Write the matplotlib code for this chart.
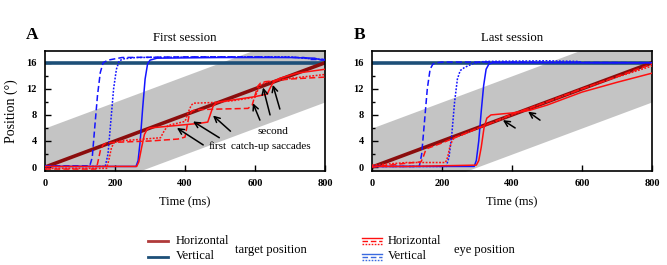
import matplotlib
matplotlib.use("Agg")
import matplotlib.pyplot as plt
from matplotlib.lines import Line2D
import numpy as np

plt.rcParams["font.family"] = ["Liberation Serif", "DejaVu Serif"]

# ---- data -------------------------------------------------------------
target_t = [0, 800]
target_h = [0, 16]
target_v = [16, 16]
band_halfwidth = 6.0

# panel A (first session) eye traces
A_vdash_t = [0, 128, 135, 142, 150, 158, 166, 180, 220, 400, 600, 740, 760, 800]
A_vdash_y = [0.2, 0.2, 1.5, 6, 11, 14.5, 16, 16.4, 16.8, 16.9, 16.9, 16.8, 16.5, 16.5]
A_vdot_t = [0, 172, 180, 188, 196, 204, 212, 225, 260, 500, 700, 760, 800]
A_vdot_y = [0.1, 0.1, 2, 7, 12, 15, 16.3, 16.6, 16.8, 16.9, 16.9, 16.6, 16.5]
A_vsol_t = [0, 260, 266, 272, 279, 286, 293, 300, 320, 500, 700, 770, 790, 800]
A_vsol_y = [0.1, 0.1, 1, 4, 9, 13.5, 15.8, 16.4, 16.7, 16.8, 16.8, 16.7, 16.4, 16.4]

A_hsol_t = [0, 262, 268, 276, 284, 292, 300, 320, 360, 400, 440, 465, 472, 480, 488,
            500, 550, 600, 635, 642, 650, 658, 670, 720, 800]
A_hsol_y = [0.1, 0.1, 0.8, 3, 5, 5.8, 6, 6.1, 6.3, 6.5, 6.7, 6.9, 8, 9.3, 9.8,
            10, 10.4, 10.8, 11.2, 12, 12.8, 13.2, 13.6, 14.4, 15]
A_hdash_t = [0, 145, 150, 158, 166, 175, 200, 300, 380, 400, 405, 412, 420, 430, 500,
             580, 592, 600, 608, 616, 630, 700, 800]
A_hdash_y = [-0.3, -0.3, 0.5, 2.5, 3.4, 3.7, 3.8, 4, 4.3, 4.6, 6, 8, 8.6, 8.8, 8.9,
             9, 9.5, 11, 12.4, 12.9, 13.1, 13.5, 13.8]
A_hdot_t = [0, 176, 182, 190, 198, 210, 260, 330, 340, 350, 360, 400, 410, 418, 425,
            480, 540, 600, 608, 616, 630, 700, 800]
A_hdot_y = [-0.2, -0.2, 1, 3, 3.8, 4, 4.2, 4.5, 5.5, 6.3, 6.5, 7, 8.5, 9.5, 9.8,
            9.9, 10.2, 10.7, 11.8, 12.6, 13, 13.6, 14.2]

# panel B (last session) eye traces
B_vdash_t = [0, 135, 142, 150, 158, 166, 174, 185, 200, 400, 800]
B_vdash_y = [0.1, 0.1, 2, 7, 12, 15, 15.8, 16, 16.1, 16.1, 16]
B_vdot_t = [0, 212, 220, 228, 236, 244, 252, 265, 290, 320, 500, 590, 600, 800]
B_vdot_y = [0.1, 0.1, 1.5, 5, 10, 13.5, 14.8, 15.3, 15.9, 16.2, 16.3, 16.2, 16, 16]
B_vsol_t = [0, 292, 298, 305, 312, 319, 326, 334, 345, 800]
B_vsol_y = [0.1, 0.1, 1, 4, 8.5, 12.5, 15, 15.8, 16, 16]

B_hsol_t = [0, 100, 200, 298, 305, 312, 320, 328, 340, 360, 400, 450, 500, 600, 700, 800]
B_hsol_y = [0.1, 0.1, 0.2, 0.3, 1, 3, 6, 7.5, 8, 8.1, 8.3, 8.7, 9.5, 11.5, 13, 14.4]
B_hdash_t = [0, 50, 100, 140, 146, 152, 160, 170, 200, 250, 300, 350, 400, 500, 600, 700, 800]
B_hdash_y = [0, 0.3, 0.6, 0.8, 1.5, 2.4, 2.9, 3.1, 3.7, 4.8, 5.9, 7.0, 8.1, 10, 12, 13.9, 15.8]
B_hdot_t = [0, 100, 210, 216, 222, 230, 240, 260, 300, 350, 400, 500, 600, 700, 800]
B_hdot_y = [0.3, 0.7, 0.7, 1.5, 3, 4.2, 4.6, 5, 5.9, 6.9, 8.0, 10, 12, 13.8, 15.5]

# arrows: (head_t, head_y, tail_t, tail_y)
A_first_arrows = [(377, 6.0, 452, 3.4), (423, 7.0, 498, 4.5), (480, 7.9, 530, 5.5)]
A_second_arrows = [(594, 9.8, 614, 7.2), (623, 12.2, 643, 8.0), (651, 12.6, 671, 8.9)]
B_arrows = [(374, 7.2, 409, 6.0), (446, 8.5, 480, 7.2)]

xticks = [0, 200, 400, 600, 800]
yticks = [0, 4, 8, 12, 16]

RED_T = "#8b0d0d"
BLUE_T = "#1d4f78"
RED_E = "#ff1010"
BLUE_E = "#1414ff"
BAND = "#c4c4c4"
DASH = (0, (4, 2))
DOT = (0, (1.2, 1))


def draw_panel(ax, vert, horiz, title, letter):
    t = np.linspace(0, 800, 200)
    tgt = np.interp(t, target_t, target_h)
    ax.fill_between(t, tgt - band_halfwidth, tgt + band_halfwidth, color=BAND, lw=0, zorder=0)
    ax.plot(target_t, target_v, color=BLUE_T, lw=2.6, zorder=2)
    ax.plot(target_t, target_h, color=RED_T, lw=2.6, zorder=2)
    for (tt, yy), ls in zip(vert, [DASH, DOT, "-"]):
        ax.plot(tt, yy, color=BLUE_E, lw=1.1, ls=ls, zorder=3)
    for (tt, yy), ls in zip(horiz, ["-", DASH, DOT]):
        ax.plot(tt, yy, color=RED_E, lw=1.1, ls=ls, zorder=3)

    ax.set_xlim(0, 800)
    ax.set_ylim(-0.6, 17.8)
    ax.set_xticks(xticks)
    ax.set_yticks(yticks)
    ax.set_yticks(np.arange(2, 17, 4), minor=True)
    ax.tick_params(direction="in", labelsize=7.5, length=4, width=1, pad=6)
    ax.tick_params(which="minor", direction="in", length=2.5, width=1)
    for lab in ax.get_xticklabels() + ax.get_yticklabels():
        lab.set_fontweight("bold")
    for s in ax.spines.values():
        s.set_linewidth(1.2)
    ax.set_xlabel("Time (ms)", fontsize=9, labelpad=6)
    ax.set_title(title, fontsize=9.2, pad=7)
    ax.text(-0.045, 1.13, letter, transform=ax.transAxes, fontsize=12.5,
            fontweight="bold", ha="center", va="center")


def arrow(ax, a):
    ax.annotate("", xy=(a[0], a[1]), xytext=(a[2], a[3]),
                arrowprops=dict(arrowstyle="->", color="k", lw=1.1,
                                shrinkA=0, shrinkB=0, mutation_scale=10),
                zorder=5)


fig = plt.figure(figsize=(6.67, 2.65), dpi=100)
axA = fig.add_axes([45 / 667, 1 - 171 / 265, 280 / 667, 120 / 265])
axB = fig.add_axes([372 / 667, 1 - 171 / 265, 280 / 667, 120 / 265])

draw_panel(axA,
           [(A_vdash_t, A_vdash_y), (A_vdot_t, A_vdot_y), (A_vsol_t, A_vsol_y)],
           [(A_hsol_t, A_hsol_y), (A_hdash_t, A_hdash_y), (A_hdot_t, A_hdot_y)],
           "First session", "A")
draw_panel(axB,
           [(B_vdash_t, B_vdash_y), (B_vdot_t, B_vdot_y), (B_vsol_t, B_vsol_y)],
           [(B_hsol_t, B_hsol_y), (B_hdash_t, B_hdash_y), (B_hdot_t, B_hdot_y)],
           "Last session", "B")
axA.set_ylabel("Position (°)", fontsize=10, labelpad=6)

for a in A_first_arrows + A_second_arrows:
    arrow(axA, a)
for a in B_arrows:
    arrow(axB, a)
axA.text(494, 3.1, "first", fontsize=8, ha="center", va="center", zorder=6)
axA.text(644, 3.1, "catch-up saccades", fontsize=8, ha="center", va="center", zorder=6)
axA.text(650, 5.4, "second", fontsize=8, ha="center", va="center", zorder=6)


# ---- legend below panels (figure pixel coords) ------------------------
def fx(px):
    return px / 667


def fy(py):
    return 1 - py / 265


def hline(x0, x1, y, **kw):
    fig.add_artist(Line2D([fx(x0), fx(x1)], [fy(y), fy(y)], transform=fig.transFigure, **kw))


hline(148, 168, 241, color="#b03a3a", lw=2)
hline(148, 168, 257, color=BLUE_T, lw=2)
fig.text(fx(176), fy(241), "Horizontal", fontsize=9, va="center")
fig.text(fx(176), fy(256), "Vertical", fontsize=9, va="center")
fig.text(fx(235), fy(250), "target position", fontsize=9, va="center")

for dy, ls in zip([-3, 0, 3], ["-", DASH, DOT]):
    hline(362, 382, 241 + dy, color=RED_E, lw=1, ls=ls)
    hline(362, 382, 257 + dy, color="#3a6ae0", lw=1, ls=ls)
fig.text(fx(388), fy(241), "Horizontal", fontsize=9, va="center")
fig.text(fx(388), fy(256), "Vertical", fontsize=9, va="center")
fig.text(fx(454), fy(250), "eye position", fontsize=9, va="center")

fig.savefig("out.png", dpi=100)
